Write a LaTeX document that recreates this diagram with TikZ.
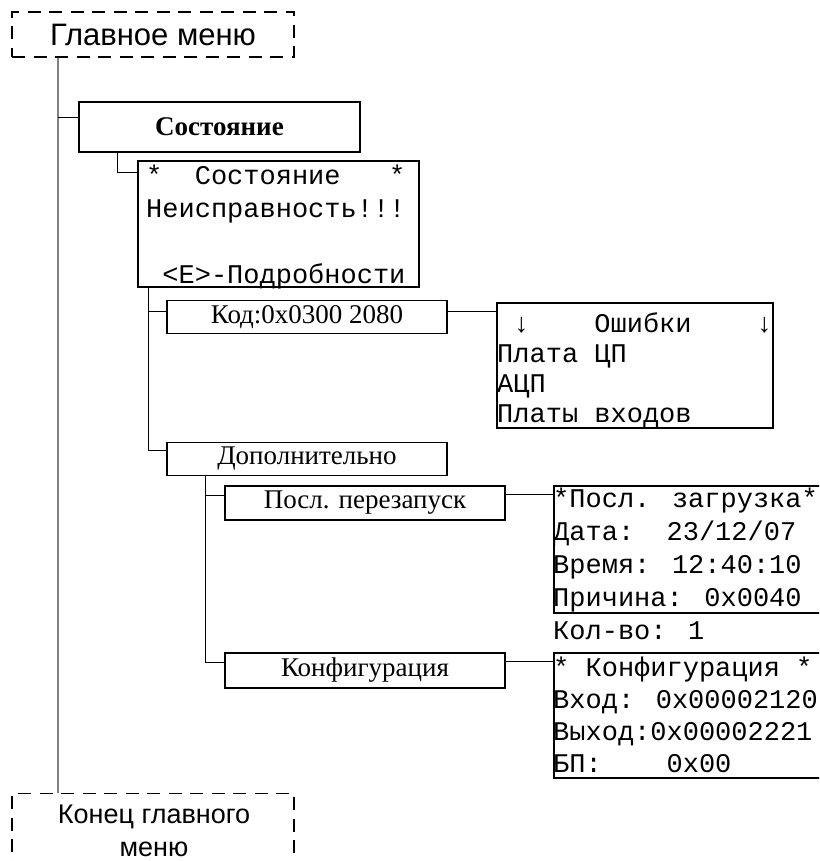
\documentclass[tikz,border=0pt]{standalone}
\usepackage{fontspec}
\setmainfont{Liberation Serif}
\newfontfamily\menusans{Liberation Sans}
\newfontfamily\lcdmono{Liberation Mono}
\tikzset{
  dashbox/.style={
    draw,
    dash pattern=on 13pt off 8.5pt,
    line width=1.4pt,
    inner sep=0pt,
    font=\menusans\fontsize{31}{35}\selectfont
  },
  endtext/.style={inner sep=0pt,align=center,font=\menusans\fontsize{27}{33}\selectfont},
  menubox/.style={draw,line width=1.7pt,inner sep=0pt,minimum width=280pt,minimum height=33pt,font=\fontsize{27}{30}\selectfont},
  lcdbox/.style={draw,line width=1.7pt,inner sep=0pt},
  lcdtext/.style={inner sep=0pt,align=left,font=\lcdmono\fontsize{27}{33}\selectfont},
  link/.style={line width=1.2pt},
  trunk/.style={draw=gray,line width=1.2pt}
}
\begin{document}
\begin{tikzpicture}[x=1pt,y=-1pt]
\useasboundingbox (0,0) rectangle (819,861);
\clip (0,0) rectangle (819,861);

% Main menu frame, top and bottom
\node[dashbox,minimum width=282pt,minimum height=45pt] (mainMenu) at (153,34.5) {Главное меню};
\node[dashbox,minimum width=282pt,minimum height=100pt,anchor=north] (menuEnd) at (153,793) {};
\node[endtext] (menuEndTxt) at (154,831) {Конец главного\\меню};

% Status item and its screen
\node[menubox,minimum width=281pt,minimum height=50pt,font=\bfseries\fontsize{27}{30}\selectfont] (state) at (219.5,127) {Состояние};
\node[lcdbox,minimum width=281pt,minimum height=126pt] (stateScr) at (278.5,224) {};
\node[lcdtext,anchor=west] (stateTxt) at (146,227.5) {*~~Состояние~~~*\\Неисправность!!!\\~\\~<E>-Подробности};

% Error code
\node[menubox] (code) at (307,317) {Код:0x0300 2080};
\node[lcdbox,minimum width=276pt,minimum height=125pt] (errScr) at (635,365.5) {};
\node[lcdtext,anchor=west,font=\lcdmono\fontsize{27}{30}\selectfont] (errTxt) at (497,370.5) {~↓~~~~Ошибки~~~~↓\\Плата ЦП\\АЦП\\Платы входов};

% Additional
\node[menubox] (extra) at (307,459) {Дополнительно};
\node[menubox,minimum height=34pt] (lastBoot) at (365,503) {Посл. перезапуск};
\node[lcdbox,minimum width=300pt,minimum height=127pt,anchor=north west] (bootScr) at (553,485) {};
\node[lcdtext,anchor=west] (bootTxt) at (553,564) {*Посл. загрузка*\\Дата:~~23/12/07\\Время: 12:40:10\\Причина: 0x0040\\Кол-во: 1};

\node[menubox,minimum height=35pt] (config) at (365,670.5) {Конфигурация};
\node[lcdbox,minimum width=300pt,minimum height=125pt,anchor=north west] (cfgScr) at (553,652) {};
\node[lcdtext,anchor=west,font=\lcdmono\fontsize{27}{32}\selectfont] (cfgTxt) at (553,715) {*~Конфигурация~*\\Вход: 0x00002120\\Выход:0x00002221\\БП:~~~~0x00};

% Connectors
\coordinate (trunkTop) at ([xshift=-95pt]mainMenu.south);
\draw[trunk] (trunkTop) -- (trunkTop |- menuEnd.north);
\coordinate (stateIn) at ([yshift=-16pt]state.north west);
\draw[link] (stateIn -| trunkTop) -- (stateIn);
\draw[link] ([xshift=39pt]state.south west) |- ([yshift=-12pt]stateScr.north west);

\coordinate (scrDrop) at ([xshift=11pt]stateScr.south west);
\draw[link] (scrDrop) |- ([yshift=-12pt]code.north west);
\draw[link] (scrDrop) |- ([yshift=-9pt]extra.north west);
\coordinate (codeOut) at ([yshift=-12pt]code.north east);
\draw[link] (codeOut) -- (codeOut -| errScr.west);

\coordinate (extraDrop) at ([xshift=39pt]extra.south west);
\draw[link] (extraDrop) |- ([yshift=-10pt]lastBoot.north west);
\draw[link] (extraDrop) |- ([yshift=-10pt]config.north west);
\coordinate (bootOut) at ([yshift=-9pt]lastBoot.north east);
\draw[link] (bootOut) -- (bootOut -| bootScr.west);
\coordinate (cfgOut) at ([yshift=-9pt]config.north east);
\draw[link] (cfgOut) -- (cfgOut -| cfgScr.west);

\end{tikzpicture}
\end{document}
